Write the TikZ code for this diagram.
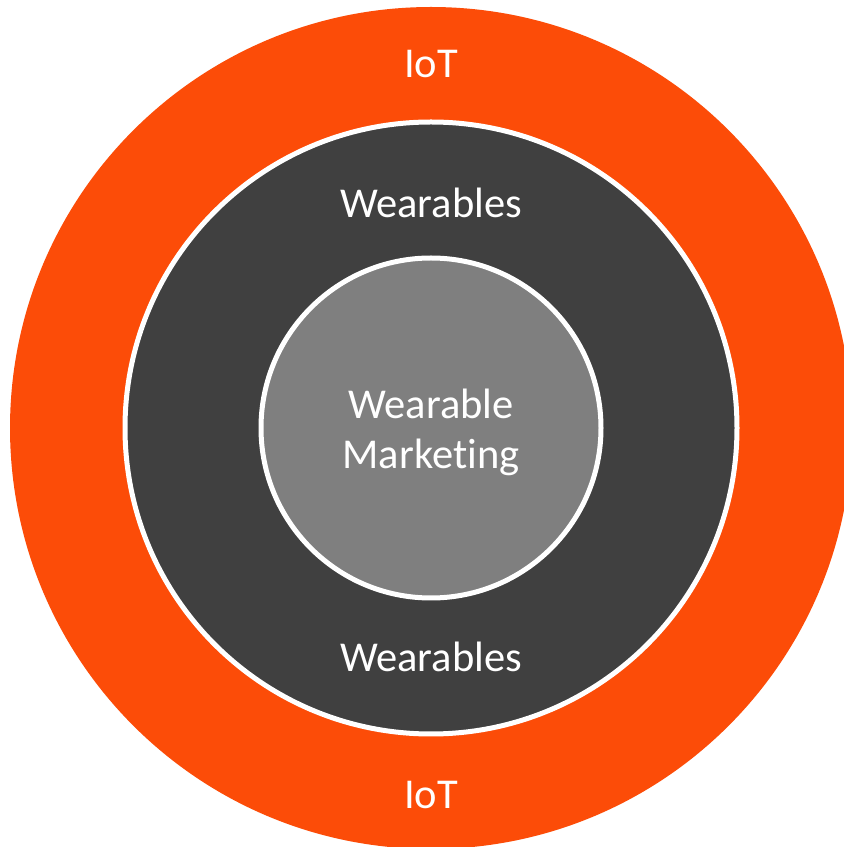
\documentclass[tikz,border=0pt]{standalone}
\usepackage{fontspec}
\setmainfont[Ligatures={NoCommon,NoRare,NoDiscretionary}]{Carlito}
\definecolor{iotorange}{HTML}{FC4C08}
\definecolor{weardark}{HTML}{404040}
\definecolor{wmgrey}{HTML}{7F7F7F}
\begin{document}
\begin{tikzpicture}[x=1pt,y=1pt,
  lbl/.style={text=white,font=\fontsize{42.5}{50}\selectfont,align=center,inner sep=0pt},
  ring/.style={draw=white,line width=5pt}]
\useasboundingbox (0,0) rectangle (844,847);
\clip (0,0) rectangle (844,847);
\fill[white] (0,0) rectangle (844,847);
\coordinate (c) at (431,419);
\fill[iotorange] (c) circle[radius=421];
\filldraw[ring,fill=weardark] (c) circle[radius=306];
\filldraw[ring,fill=wmgrey] (c) circle[radius=170];
\node[lbl] (iottop) at (431,783) {IoT};
\node[lbl] (weartop) at (431,644) {Wearables};
\node[lbl] (wm) at (431,415) {Wearable\\Marketing};
\node[lbl] (wearbot) at (431,190) {Wearables};
\node[lbl] (iotbot) at (431,52) {IoT};
\end{tikzpicture}
\end{document}
